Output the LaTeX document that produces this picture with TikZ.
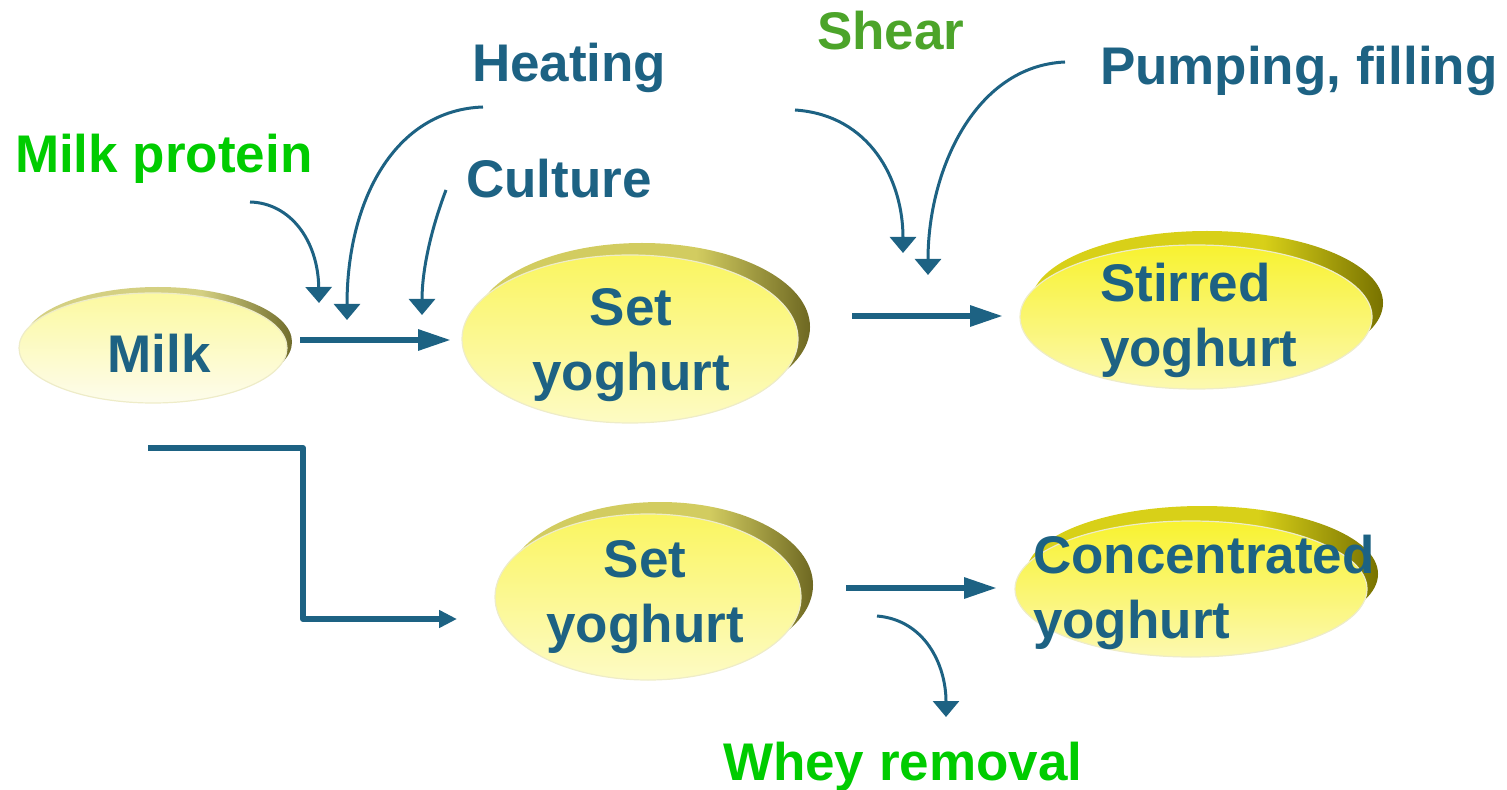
\documentclass[tikz,border=0pt]{standalone}
\usepackage{fontspec}
\setmainfont{Liberation Sans}
\usetikzlibrary{arrows.meta,shapes.geometric}
\definecolor{tblue}{RGB}{29,98,131}
\definecolor{tgreen}{RGB}{0,204,0}
\definecolor{sgreen}{RGB}{76,164,42}
\definecolor{rim}{RGB}{238,236,200}
\definecolor{oliveA}{RGB}{212,208,130}
\definecolor{oliveB}{RGB}{112,108,44}
\definecolor{oliveC}{RGB}{210,204,96}
\definecolor{oliveD}{RGB}{110,104,34}
\definecolor{goldA}{RGB}{216,208,24}
\definecolor{goldB}{RGB}{120,114,0}
\definecolor{milkTop}{RGB}{252,249,160}
\definecolor{milkBot}{RGB}{253,252,236}
\definecolor{setTop}{RGB}{250,245,96}
\definecolor{setBot}{RGB}{253,251,196}
\definecolor{stTop}{RGB}{248,242,48}
\definecolor{stBot}{RGB}{252,249,176}
\pgfdeclarehorizontalshading{milkedge}{100bp}{color(0bp)=(oliveA); color(58bp)=(oliveA); color(75bp)=(oliveB); color(100bp)=(oliveB)}
\pgfdeclarehorizontalshading{setedge}{100bp}{color(0bp)=(oliveC); color(58bp)=(oliveC); color(75bp)=(oliveD); color(100bp)=(oliveD)}
\pgfdeclarehorizontalshading{goldedge}{100bp}{color(0bp)=(goldA); color(58bp)=(goldA); color(75bp)=(goldB); color(100bp)=(goldB)}
\begin{document}
\begin{tikzpicture}[x=0.5pt,y=-0.5pt,
  lbl/.style={font=\fontsize{26.5}{32.5}\selectfont\bfseries, inner sep=0pt, outer sep=0pt},
  ellfront/.style={ellipse, inner sep=0pt, outer sep=0pt, draw=rim, line width=0.6pt},
  ellback/.style={ellipse, inner sep=0pt, outer sep=0pt},
  flowthin/.style={draw=tblue, line width=1.5pt, -{Triangle[length=8pt,width=13pt]}},
  flowthick/.style={draw=tblue, line width=3pt, -{Triangle[length=16.5pt,width=10pt]}},
  flowelbow/.style={draw=tblue, line width=3pt, line join=round, -{Triangle[length=9pt,width=8.5pt]}}]
\useasboundingbox (0,0) rectangle (1507,790);

% ellipses (back = 3D edge, front = face)
\node[ellback, minimum width=134pt, minimum height=55pt, shading=milkedge] (milkback) at (158,342) {};
\node[ellfront, minimum width=134pt, minimum height=55pt, top color=milkTop, bottom color=milkBot] (milk) at (153,348) {};

\node[ellback, minimum width=168pt, minimum height=84pt, shading=setedge] (set1back) at (642,327) {};
\node[ellfront, minimum width=168pt, minimum height=84pt, top color=setTop, bottom color=setBot] (set1) at (630,339) {};

\node[ellback, minimum width=176pt, minimum height=72pt, shading=goldedge] (stirback) at (1207,303) {};
\node[ellfront, minimum width=176pt, minimum height=72pt, top color=stTop, bottom color=stBot] (stir) at (1196,317) {};

\node[ellback, minimum width=153pt, minimum height=83pt, shading=setedge] (set2back) at (660,585) {};
\node[ellfront, minimum width=153pt, minimum height=83pt, top color=setTop, bottom color=setBot] (set2) at (648,597) {};

\node[ellback, minimum width=176pt, minimum height=68pt, shading=goldedge] (concback) at (1202,574) {};
\node[ellfront, minimum width=176pt, minimum height=68pt, top color=stTop, bottom color=stBot] (conc) at (1191,589) {};

% texts in ellipses
\node[lbl, text=tblue, anchor=base] (milktxt) at (159,373) {Milk};
\node[lbl, text=tblue, anchor=north, align=center] (set1txt) at (631,288) {Set\\yoghurt};
\node[lbl, text=tblue, anchor=north west, align=left] (stirtxt) at (1100,263) {Stirred\\yoghurt};
\node[lbl, text=tblue, anchor=north, align=center] (set2txt) at (645,540) {Set\\yoghurt};
\node[lbl, text=tblue, anchor=north west, align=left] (conctxt) at (1033,535) {Concentrated\\yoghurt};

% outside labels
\node[lbl, text=tgreen, anchor=base west] (mp) at (15,173) {Milk protein};
\node[lbl, text=tblue, anchor=base west] (heat) at (472,82) {Heating};
\node[lbl, text=tblue, anchor=base west] (cult) at (466,198) {Culture};
\node[lbl, text=sgreen, anchor=base west] (shear) at (817,50) {Shear};
\node[lbl, text=tblue, anchor=base west] (pump) at (1100,85) {Pumping, filling};
\node[lbl, text=tgreen, anchor=base west] (whey) at (723,780) {Whey removal};

% connector end points
\coordinate (a1s) at (300,340); \coordinate (a1e) at (451,340);
\coordinate (a2s) at (852,316); \coordinate (a2e) at (1003,316);
\coordinate (a3s) at (846,588); \coordinate (a3e) at (997,588);
\coordinate (e0) at (148,448); \coordinate (e1) at (303,448);
\coordinate (e2) at (303,619); \coordinate (e3) at (457,619);
\coordinate (mps) at (250,202); \coordinate (mpe) at (319,303);
\coordinate (hs) at (483,107); \coordinate (he) at (347,320);
\coordinate (cs) at (446,190); \coordinate (ce) at (422,315);
\coordinate (ss) at (795,110); \coordinate (se) at (903,253);
\coordinate (ps) at (1065,62); \coordinate (pe) at (928,275);
\coordinate (ws) at (877,616); \coordinate (we) at (946,717);

% thick flow arrows
\draw[flowthick] (a1s) -- (a1e);
\draw[flowthick] (a2s) -- (a2e);
\draw[flowthick] (a3s) -- (a3e);
\draw[flowelbow] (e0) -- (e1) -- (e2) -- (e3);

% thin curved arrows
\draw[flowthin] (mps) .. controls (290,203) and (318,240) .. (mpe);
\draw[flowthin] (hs) .. controls (395,110) and (347,200) .. (he);
\draw[flowthin] (cs) .. controls (430,232) and (422,272) .. (ce);
\draw[flowthin] (ss) .. controls (870,115) and (903,180) .. (se);
\draw[flowthin] (ps) .. controls (975,66) and (928,170) .. (pe);
\draw[flowthin] (ws) .. controls (925,620) and (946,665) .. (we);
\end{tikzpicture}
\end{document}
